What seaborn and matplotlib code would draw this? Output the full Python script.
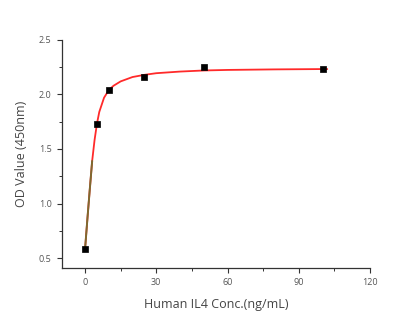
import matplotlib
matplotlib.use("Agg")
import matplotlib.pyplot as plt
import seaborn as sns
import pandas as pd
from matplotlib.ticker import MultipleLocator

sns.set_theme(style="ticks")
plt.rcParams['font.family'] = ['Open Sans', 'DejaVu Sans']

# measured points
conc = [0, 5, 10, 25, 50, 100]
od = [0.58, 1.73, 2.04, 2.16, 2.25, 2.23]

# fitted curve
curve_x = [0, 1, 2, 3, 4, 5, 6, 8, 10, 12, 15, 20, 25, 30, 40, 50, 60, 80, 100, 102]
curve_y = [0.58, 0.86, 1.13, 1.39, 1.58, 1.73, 1.84, 1.97, 2.04, 2.08, 2.12, 2.16, 2.18,
           2.195, 2.21, 2.22, 2.225, 2.23, 2.233, 2.233]

x_ticks = [0, 30, 60, 90, 120]
y_ticks = [0.5, 1.0, 1.5, 2.0, 2.5]

fig = plt.figure(figsize=(4.0, 3.17), dpi=100)
ax = fig.add_axes([0.155, 0.155, 0.77, 0.719])

curve = pd.DataFrame({"x": curve_x, "y": curve_y})
pts = pd.DataFrame({"x": conc, "y": od})

sns.lineplot(data=curve, x="x", y="y", sort=False, color="#ff2a2a", lw=1.3, ax=ax)
sns.lineplot(data=curve.iloc[:4], x="x", y="y", sort=False, color="#7d6a30", lw=1.4, ax=ax)
sns.scatterplot(data=pts, x="x", y="y", marker="s", s=16, color="black",
                edgecolor="black", linewidth=0.5, ax=ax, zorder=5)

ax.set_xlim(-9.7, 120)
ax.set_ylim(0.41, 2.5)
ax.set_xticks(x_ticks)
ax.set_xticklabels([str(t) for t in x_ticks])
ax.set_yticks(y_ticks)
ax.set_yticklabels([f"{t:.1f}" for t in y_ticks])
ax.xaxis.set_minor_locator(MultipleLocator(15))
ax.yaxis.set_minor_locator(MultipleLocator(0.25))

for s in ["top", "right"]:
    ax.spines[s].set_visible(False)
for s in ["left", "bottom"]:
    ax.spines[s].set_color("#333333")
    ax.spines[s].set_linewidth(0.9)

ax.tick_params(axis="both", which="major", direction="out", length=3.5, width=0.8,
               color="#333333", labelsize=6.5, labelcolor="#555555", pad=4)
ax.tick_params(axis="both", which="minor", direction="out", length=2, width=0.7,
               color="#333333")

ax.set_xlabel("Human IL4 Conc.(ng/mL)", fontsize=9, color="#444444", labelpad=8)
ax.set_ylabel("OD Value (450nm)", fontsize=9, color="#444444", labelpad=8)

fig.savefig("out.png", dpi=100, facecolor="white")
